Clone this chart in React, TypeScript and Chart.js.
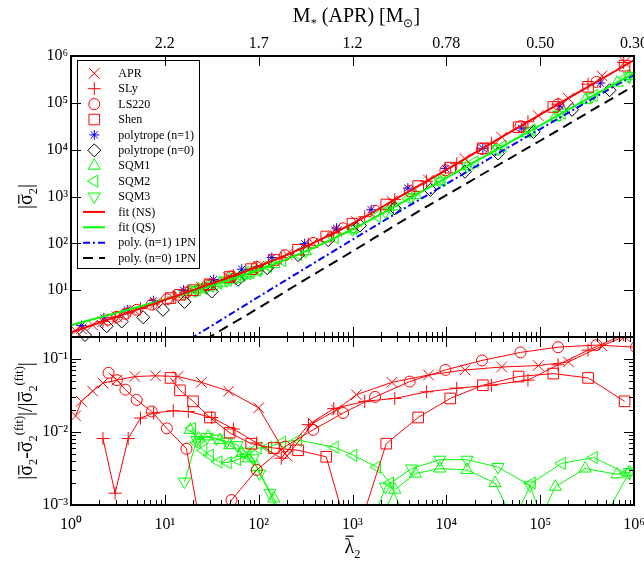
import React, { useEffect, useRef } from 'react';
import { Chart, registerables } from 'chart.js';
import { drawPoint } from 'chart.js/helpers';

Chart.register(...registerables);

const FONT = '"Liberation Serif", "Times New Roman", Times, serif';
const RED = '#ff0000';
const GREEN = '#00ff00';
const BLUE = '#0000ff';
const BLACK = '#000000';

// ---------------- axis ticks ----------------
const xTickValues = [1, 10, 100, 1e3, 1e4, 1e5, 1e6];
const xTickLabels = ['10⁰', '10¹', '10²', '10³', '10⁴', '10⁵', '10⁶'];
const massTickLabels = ['', '2.2', '1.7', '1.2', '0.78', '0.50', '0.30'];
const sigmaTickValues = [10, 100, 1e3, 1e4, 1e5, 1e6];
const sigmaTickLabels = ['10¹', '10²', '10³', '10⁴', '10⁵', '10⁶'];
const devTickValues = [1e-3, 1e-2, 1e-1];
const devTickLabels = ['10⁻³', '10⁻²', '10⁻¹'];

// ---------------- NS data ----------------
const aprLambda = [1.12, 1.29, 1.70, 2.19, 3.09, 4.79, 7.94, 13.8, 24.5, 47.9, 100, 200, 380, 676, 1100, 2630, 6460, 15800, 38900, 95500, 200000, 457000, 794000];
const aprSigma = [1.36, 1.50, 1.80, 2.14, 2.71, 3.68, 5.25, 7.73, 11.6, 18.8, 32.4, 57.8, 102, 179, 292, 792, 2240, 6400, 18500, 53200, 125000, 377000, 741000];
const aprDev = [0.0166, 0.0263, 0.0363, 0.0468, 0.0513, 0.0575, 0.0589, 0.0575, 0.0479, 0.0363, 0.0214, 0.00468, 0.0132, 0.0200, 0.0324, 0.0479, 0.0603, 0.0708, 0.0776, 0.0813, 0.0912, 0.151, 0.204];

const slyLambda = [2.19, 2.95, 4.07, 5.50, 7.59, 12.3, 17.8, 31.6, 53.7, 95.5, 174, 339, 631, 1350, 2820, 6170, 12900, 30200, 74100, 155000, 324000, 776000];
const slySigma = [2.14, 2.63, 3.29, 4.06, 5.08, 7.13, 9.23, 13.8, 20.4, 31.3, 49.2, 91.0, 167, 370, 857, 2120, 5010, 13700, 39500, 93300, 250000, 726000];
const slyDev = [0.00813, 0.00145, 0.00813, 0.0155, 0.0182, 0.0195, 0.0191, 0.0158, 0.0110, 0.00708, 0.00437, 0.0126, 0.0209, 0.0263, 0.0288, 0.0355, 0.0398, 0.0437, 0.0513, 0.0832, 0.132, 0.214];

const ls220Lambda = [2.51, 3.09, 3.80, 5.01, 7.24, 10.5, 17.0, 28.2, 51.3, 95.5, 191, 380, 794, 1740, 4070, 9770, 24000, 61700, 155000, 398000];
const ls220Sigma = [2.35, 2.71, 3.13, 3.80, 4.92, 6.37, 8.93, 12.7, 19.7, 31.3, 55.6, 102, 210, 494, 1310, 3610, 10400, 31800, 93300, 279000];
const ls220DevLambda = [...ls220Lambda, 1050000];
const ls220Dev = [0.0646, 0.0513, 0.0380, 0.0275, 0.0191, 0.0112, 0.00589, 0.000158, 0.00117, 0.00302, 0.00631, 0.0107, 0.0182, 0.0302, 0.0490, 0.0708, 0.0955, 0.123, 0.145, 0.155, 0.145];

const shenLambda = [11.5, 14.5, 20.0, 30.2, 49.0, 83.2, 145, 263, 525, 1000, 2290, 5010, 11000, 24500, 58900, 138000, 324000, 794000];
const shenSigma = [6.79, 7.98, 10.0, 13.4, 19.1, 28.2, 44.1, 72.9, 140, 263, 676, 1670, 4140, 10700, 30100, 81700, 220000, 622000];
const shenDev = [0.0550, 0.0372, 0.0263, 0.0158, 0.00977, 0.00692, 0.00603, 0.00562, 0.00457, 0.000251, 0.00692, 0.0158, 0.0288, 0.0437, 0.0575, 0.0631, 0.0550, 0.0263];

const poly1Lambda = [1.29, 2.24, 3.98, 7.59, 15.8, 33.1, 66.1, 138, 309, 676, 1580, 3890, 9770, 24500, 63100, 162000, 437000];
const poly1Sigma = [1.76, 2.56, 3.80, 5.97, 10.0, 16.8, 28.0, 49.9, 98.2, 210, 522, 1510, 3980, 10700, 28800, 85000, 265000];

const poly0Lambda = [1.41, 2.40, 3.47, 5.89, 9.55, 16.2, 31.6, 60.3, 123, 263, 550, 1200, 2820, 6760, 15800, 35500, 85100, 219000, 550000];
const poly0Sigma = [1.10, 1.70, 2.14, 2.63, 3.80, 5.62, 9.33, 16.6, 29.5, 56.2, 117, 240, 562, 1380, 3390, 8320, 24000, 70800, 186000];

// ---------------- QS data ----------------
const sqm1Lambda = [18.6, 22.9, 28.8, 38.9, 49.0, 66.1, 77.6, 95.5, 145, 316, 1000, 2820, 4680, 8510, 16600, 33100, 70800, 145000, 302000, 661000, 891000];
const sqm1Sigma = [9.16, 10.4, 11.9, 14.4, 16.8, 20.5, 22.8, 26.1, 36.1, 67.6, 200, 611, 1070, 2100, 4430, 9600, 22500, 50000, 114000, 270000, 376000];
const sqm1Dev = [0.0107, 0.00813, 0.00871, 0.00776, 0.00661, 0.00513, 0.00437, 0.00331, 0.00123, 0.0001, 0.0001, 0.00162, 0.00269, 0.00316, 0.00302, 0.00200, 0.000251, 0.00178, 0.00316, 0.00263, 0.00282];

const sqm2Lambda = [19.5, 21.9, 25.7, 30.2, 37.2, 46.8, 58.9, 75.9, 97.7, 126, 178, 263, 646, 1020, 1820, 2510, 3980, 8910, 20000, 39800, 81300, 170000, 372000, 832000];
const sqm2Sigma = [9.42, 10.1, 11.1, 12.2, 14.0, 16.3, 19.0, 22.4, 26.5, 32.4, 42.7, 58.3, 132, 205, 381, 540, 895, 2210, 5450, 11800, 26200, 60000, 144000, 348000];
const sqm2Dev = [0.0112, 0.00708, 0.00562, 0.00479, 0.00389, 0.00380, 0.00417, 0.00479, 0.00603, 0.00617, 0.00724, 0.00776, 0.00617, 0.00479, 0.00331, 0.00200, 0.000501, 0.0001, 0.0001, 0.000316, 0.00200, 0.00372, 0.00447, 0.00269];

const sqm3Lambda = [16.2, 21.9, 28.2, 35.5, 45.7, 58.9, 70.8, 87.1, 102, 132, 316, 1000, 2240, 4270, 8510, 16600, 35500, 77600, 158000, 355000, 891000];
const sqm3Sigma = [8.43, 10.1, 11.7, 13.6, 16.1, 19.0, 21.4, 24.5, 27.4, 33.6, 67.6, 200, 476, 968, 2100, 4430, 10400, 24900, 55500, 136000, 376000];
const sqm3Dev = [0.00209, 0.00776, 0.00851, 0.00813, 0.00741, 0.00661, 0.00537, 0.00437, 0.00269, 0.00145, 0.0001, 0.0001, 0.00178, 0.00316, 0.00417, 0.00417, 0.00331, 0.00186, 0.000158, 0.000316, 0.00282];

// ---------------- fit / 1PN curves ----------------
const fitLambda = [1, 3.16, 10, 31.6, 100, 316, 1000, 3160, 1e4, 3.16e4, 1e5, 3.16e5, 1e6];
const fitNSSigma = [1.26, 2.75, 6.17, 13.8, 32.4, 85.1, 263, 977, 3720, 14500, 56200, 214000, 813000];
const fitQSSigma = [1.78, 3.31, 6.31, 12.6, 26.9, 67.6, 200, 692, 2510, 9120, 33100, 120000, 427000];
const pnLambda = [10, 31.6, 100, 316, 1000, 3160, 1e4, 3.16e4, 1e5, 3.16e5, 1e6];
const poly1PNSigma = [0.427, 1.74, 7.24, 29.5, 120, 479, 1860, 7240, 27500, 105000, 398000];
const poly0PNSigma = [0.25, 1.06, 4.17, 17.0, 67.6, 275, 1070, 4070, 15500, 60300, 229000];

// ---------------- helpers ----------------
const pts = (xs: number[], ys: number[]) => xs.map((x, i) => ({ x, y: ys[i] }));

const markerDs = (label: string, xs: number[], ys: number[], style: string, color: string, radius: number, rotation = 0, withLine = false) => ({
  label,
  data: pts(xs, ys),
  pointStyle: style,
  pointRadius: radius,
  pointRotation: rotation,
  pointBorderWidth: 1,
  borderColor: color,
  pointBorderColor: color,
  backgroundColor: 'rgba(0,0,0,0)',
  pointBackgroundColor: 'rgba(0,0,0,0)',
  borderWidth: 1,
  showLine: withLine,
  isMarker: true,
  order: 1,
  clip: withLine ? undefined : false,
});

const lineDs = (label: string, xs: number[], ys: number[], color: string, dash: number[]) => ({
  label,
  data: pts(xs, ys),
  showLine: true,
  pointRadius: 0,
  borderColor: color,
  backgroundColor: color,
  borderWidth: 2,
  borderDash: dash,
  cubicInterpolationMode: 'monotone',
  isMarker: false,
  order: 0,
});

type Seg = { t: string; k?: 'sub' | 'sup'; bar?: number };

function drawRich(ctx: CanvasRenderingContext2D, segs: Seg[], cx: number, cy: number, size: number, rot: number) {
  ctx.save();
  ctx.translate(cx, cy);
  ctx.rotate(rot);
  const small = size * 0.62;
  const widths = segs.map((s) => {
    ctx.font = `${s.k ? small : size}px ${FONT}`;
    return ctx.measureText(s.t).width;
  });
  const total = widths.reduce((a, b) => a + b, 0);
  let x = -total / 2;
  const base = size * 0.33;
  ctx.fillStyle = '#000';
  ctx.textAlign = 'left';
  ctx.textBaseline = 'alphabetic';
  segs.forEach((s, i) => {
    ctx.font = `${s.k ? small : size}px ${FONT}`;
    const dy = s.k === 'sub' ? size * 0.28 : s.k === 'sup' ? -size * 0.42 : 0;
    ctx.fillText(s.t, x, base + dy);
    if (s.bar) {
      ctx.fillRect(x + widths[i] * 0.1, base - size * s.bar - 1, widths[i] * 0.85, Math.max(1, size * 0.06));
    }
    x += widths[i];
  });
  ctx.restore();
}

function logTickList(min: number, max: number) {
  const out: { v: number; major: boolean }[] = [];
  const k0 = Math.floor(Math.log10(min) + 1e-9);
  const k1 = Math.ceil(Math.log10(max) - 1e-9);
  for (let k = k0; k <= k1; k++) {
    for (let m = 1; m <= 9; m++) {
      const v = m * Math.pow(10, k);
      if (v >= min * 0.9999 && v <= max * 1.0001) out.push({ v, major: m === 1 });
    }
  }
  return out;
}

function makeFramePlugin(cfg: { xTopMinor: boolean; xBottomMinor: boolean; yMinor: boolean }) {
  return {
    id: 'frameTicks',
    afterDraw(chart: any) {
      const { ctx, chartArea: a, scales } = chart;
      const xs = scales.x;
      const ys = scales.y;
      ctx.save();
      ctx.strokeStyle = '#000';
      ctx.lineWidth = 1;
      ctx.setLineDash([]);
      ctx.beginPath();
      for (const t of logTickList(xs.min, xs.max)) {
        const px = Math.round(xs.getPixelForValue(t.v)) + 0.5;
        const len = t.major ? 10 : 5;
        if (t.major || cfg.xBottomMinor) {
          ctx.moveTo(px, a.bottom);
          ctx.lineTo(px, a.bottom - len);
        }
        if (t.major || cfg.xTopMinor) {
          ctx.moveTo(px, a.top);
          ctx.lineTo(px, a.top + len);
        }
      }
      for (const t of logTickList(ys.min, ys.max)) {
        if (!t.major && !cfg.yMinor) continue;
        const py = Math.round(ys.getPixelForValue(t.v)) + 0.5;
        const len = t.major ? 10 : 5;
        ctx.moveTo(a.left, py);
        ctx.lineTo(a.left + len, py);
        ctx.moveTo(a.right, py);
        ctx.lineTo(a.right - len, py);
      }
      ctx.stroke();
      ctx.lineWidth = 2;
      ctx.strokeRect(a.left, a.top, a.right - a.left, a.bottom - a.top);
      ctx.restore();
    },
  };
}

const legendPlugin = {
  id: 'boxLegend',
  afterDatasetsDraw(chart: any) {
    const { ctx, chartArea: a } = chart;
    const bx = a.left + 6;
    const by = a.top + 4;
    const bw = 122;
    const bh = 208;
    ctx.save();
    ctx.fillStyle = '#fff';
    ctx.fillRect(bx, by, bw, bh);
    ctx.strokeStyle = '#000';
    ctx.lineWidth = 1;
    ctx.setLineDash([]);
    ctx.strokeRect(bx + 0.5, by + 0.5, bw, bh);
    chart.data.datasets.forEach((ds: any, i: number) => {
      const y = by + 13.3 + i * 15.4;
      if (!ds.isMarker) {
        ctx.strokeStyle = ds.borderColor;
        ctx.lineWidth = ds.borderWidth;
        ctx.setLineDash(ds.borderDash || []);
        ctx.beginPath();
        ctx.moveTo(bx + 6, y);
        ctx.lineTo(bx + 28, y);
        ctx.stroke();
        ctx.setLineDash([]);
      } else {
        ctx.strokeStyle = ds.borderColor;
        ctx.fillStyle = 'rgba(0,0,0,0)';
        ctx.lineWidth = 1;
        drawPoint(ctx, { pointStyle: ds.pointStyle, radius: ds.pointRadius, rotation: ds.pointRotation || 0, borderWidth: 1 } as any, bx + 17.3, y);
      }
      ctx.fillStyle = '#000';
      ctx.font = `12px ${FONT}`;
      ctx.textBaseline = 'middle';
      ctx.textAlign = 'left';
      ctx.fillText(ds.label, bx + 41.3, y + 0.5);
    });
    ctx.restore();
  },
};

const topTitleSegs: Seg[] = [{ t: 'M' }, { t: '*', k: 'sub' }, { t: ' (APR) [M' }, { t: '⊙', k: 'sub' }, { t: ']' }];
const sigmaTitleSegs: Seg[] = [{ t: '|' }, { t: 'σ', bar: 0.62 }, { t: '2', k: 'sub' }, { t: '|' }];
const devTitleSegs: Seg[] = [
  { t: '|' }, { t: 'σ', bar: 0.62 }, { t: '2', k: 'sub' }, { t: '-' }, { t: 'σ', bar: 0.62 }, { t: '2', k: 'sub' }, { t: '(fit)', k: 'sup' },
  { t: '|/|' }, { t: 'σ', bar: 0.62 }, { t: '2', k: 'sub' }, { t: '(fit)', k: 'sup' }, { t: '|' },
];
const lambdaTitleSegs: Seg[] = [{ t: 'λ', bar: 0.8 }, { t: '2', k: 'sub' }];

const topTitlesPlugin = {
  id: 'topTitles',
  afterDraw(chart: any) {
    const { ctx, chartArea: a } = chart;
    drawRich(ctx, topTitleSegs, (a.left + a.right) / 2 + 4, 15, 20, 0);
    drawRich(ctx, sigmaTitleSegs, 25, (a.top + a.bottom) / 2, 20, -Math.PI / 2);
  },
};
const bottomTitlesPlugin = {
  id: 'bottomTitles',
  afterDraw(chart: any) {
    const { ctx, chartArea: a } = chart;
    drawRich(ctx, devTitleSegs, 25, (a.top + a.bottom) / 2, 20, -Math.PI / 2);
    drawRich(ctx, lambdaTitleSegs, (a.left + a.right) / 2, 546, 20, 0);
  },
};

const tickFont = { family: FONT, size: 16 };

function zeroPad(s: any) {
  s.paddingLeft = 0;
  s.paddingRight = 0;
  s.paddingTop = 0;
  s.paddingBottom = 0;
}

export default function App() {
  const topRef = useRef<HTMLCanvasElement>(null);
  const botRef = useRef<HTMLCanvasElement>(null);

  useEffect(() => {
    document.body.style.margin = '0';

    const topDatasets: any[] = [
      markerDs('APR', aprLambda, aprSigma, 'crossRot', RED, 7.5),
      markerDs('SLy', slyLambda, slySigma, 'cross', RED, 6.5),
      markerDs('LS220', ls220Lambda, ls220Sigma, 'circle', RED, 5.5),
      markerDs('Shen', shenLambda, shenSigma, 'rect', RED, 7.5),
      markerDs('polytrope (n=1)', poly1Lambda, poly1Sigma, 'star', BLUE, 5),
      markerDs('polytrope (n=0)', poly0Lambda, poly0Sigma, 'rectRot', BLACK, 6.5),
      markerDs('SQM1', sqm1Lambda, sqm1Sigma, 'triangle', GREEN, 7),
      markerDs('SQM2', sqm2Lambda, sqm2Sigma, 'triangle', GREEN, 7, 270),
      markerDs('SQM3', sqm3Lambda, sqm3Sigma, 'triangle', GREEN, 7, 180),
      lineDs('fit (NS)', fitLambda, fitNSSigma, RED, []),
      lineDs('fit (QS)', fitLambda, fitQSSigma, GREEN, []),
      lineDs('poly. (n=1) 1PN', pnLambda, poly1PNSigma, BLUE, [7, 3, 2, 3]),
      lineDs('poly. (n=0) 1PN', pnLambda, poly0PNSigma, BLACK, [10, 6]),
    ];

    const bottomDatasets: any[] = [
      markerDs('APR', aprLambda, aprDev, 'crossRot', RED, 7.5, 0, true),
      markerDs('SLy', slyLambda, slyDev, 'cross', RED, 6.5, 0, true),
      markerDs('LS220', ls220DevLambda, ls220Dev, 'circle', RED, 5.5, 0, true),
      markerDs('Shen', shenLambda, shenDev, 'rect', RED, 7.5, 0, true),
      markerDs('SQM1', sqm1Lambda, sqm1Dev, 'triangle', GREEN, 7, 0, true),
      markerDs('SQM2', sqm2Lambda, sqm2Dev, 'triangle', GREEN, 7, 270, true),
      markerDs('SQM3', sqm3Lambda, sqm3Dev, 'triangle', GREEN, 7, 180, true),
    ];

    const top = new Chart(topRef.current as HTMLCanvasElement, {
      type: 'scatter',
      data: { datasets: topDatasets },
      options: {
        responsive: false,
        animation: false,
        events: [],
        layout: { padding: { left: 0, right: 10, top: 0, bottom: 226 } },
        plugins: { legend: { display: false }, tooltip: { enabled: false } },
        scales: {
          x: {
            type: 'logarithmic',
            position: 'top',
            min: 1,
            max: 1e6,
            grid: { display: false, drawTicks: false },
            border: { display: false },
            afterBuildTicks: (s: any) => { s.ticks = xTickValues.map((v) => ({ value: v })); },
            afterFit: (s: any) => { s.height = 56; zeroPad(s); },
            ticks: { autoSkip: false, maxRotation: 0, minRotation: 0, padding: 3, color: '#000', font: tickFont, callback: (_v: any, i: number) => massTickLabels[i] },
          },
          y: {
            type: 'logarithmic',
            position: 'left',
            min: 1,
            max: 1e6,
            grid: { display: false, drawTicks: false },
            border: { display: false },
            afterBuildTicks: (s: any) => { s.ticks = sigmaTickValues.map((v) => ({ value: v })); },
            afterFit: (s: any) => { s.width = 71; zeroPad(s); },
            ticks: { autoSkip: false, padding: 3, color: '#000', font: tickFont, callback: (_v: any, i: number) => sigmaTickLabels[i] },
          },
        },
      } as any,
      plugins: [legendPlugin, makeFramePlugin({ xTopMinor: false, xBottomMinor: true, yMinor: false }), topTitlesPlugin],
    });

    const bot = new Chart(botRef.current as HTMLCanvasElement, {
      type: 'scatter',
      data: { datasets: bottomDatasets },
      options: {
        responsive: false,
        animation: false,
        events: [],
        layout: { padding: { left: 0, right: 10, top: 337, bottom: 0 } },
        plugins: { legend: { display: false }, tooltip: { enabled: false } },
        scales: {
          x: {
            type: 'logarithmic',
            position: 'bottom',
            min: 1,
            max: 1e6,
            grid: { display: false, drawTicks: false },
            border: { display: false },
            afterBuildTicks: (s: any) => { s.ticks = xTickValues.map((v) => ({ value: v })); },
            afterFit: (s: any) => { s.height = 58; zeroPad(s); },
            ticks: { autoSkip: false, maxRotation: 0, minRotation: 0, padding: 10, color: '#000', font: tickFont, callback: (_v: any, i: number) => xTickLabels[i] },
          },
          y: {
            type: 'logarithmic',
            position: 'left',
            min: 1e-3,
            max: 0.2,
            grid: { display: false, drawTicks: false },
            border: { display: false },
            afterBuildTicks: (s: any) => { s.ticks = devTickValues.map((v) => ({ value: v })); },
            afterFit: (s: any) => { s.width = 71; zeroPad(s); },
            ticks: { autoSkip: false, padding: 3, color: '#000', font: tickFont, callback: (_v: any, i: number) => devTickLabels[i] },
          },
        },
      } as any,
      plugins: [makeFramePlugin({ xTopMinor: true, xBottomMinor: true, yMinor: true }), bottomTitlesPlugin],
    });

    return () => {
      top.destroy();
      bot.destroy();
    };
  }, []);

  return (
    <div style={{ position: 'relative', width: 644, height: 563, background: '#fff' }}>
      <canvas ref={topRef} width={644} height={563} style={{ position: 'absolute', left: 0, top: 0 }} />
      <canvas ref={botRef} width={644} height={563} style={{ position: 'absolute', left: 0, top: 0 }} />
    </div>
  );
}
